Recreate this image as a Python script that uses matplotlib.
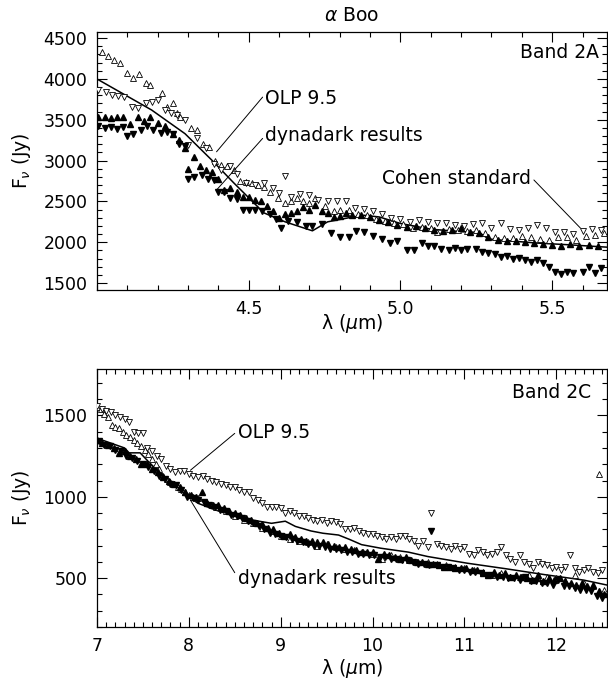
import matplotlib
matplotlib.use("Agg")
import matplotlib.pyplot as plt
from matplotlib.ticker import MultipleLocator

plt.rcParams["font.family"] = "DejaVu Sans"
plt.rcParams["mathtext.fontset"] = "dejavusans"

# ---------------- Band 2A (top panel) ----------------
a_olp_up_x = [4.016, 4.036, 4.056, 4.076, 4.098, 4.12, 4.14, 4.16, 4.175, 4.214, 4.23, 4.25, 4.265, 4.275,
              4.31, 4.33, 4.35, 4.37, 4.39, 4.41, 4.43, 4.45, 4.47, 4.49, 4.51, 4.53, 4.55, 4.57, 4.595,
              4.62, 4.64, 4.66, 4.68, 4.70, 4.72, 4.75, 4.78, 4.80, 4.83, 4.86, 4.89, 4.92, 4.95, 4.98,
              5.01, 5.04, 5.07, 5.10, 5.12, 5.16, 5.19, 5.22, 5.25, 5.28, 5.31, 5.34, 5.37, 5.40, 5.43,
              5.46, 5.49, 5.52, 5.55, 5.58, 5.61, 5.64, 5.67]
a_olp_up_y = [4330, 4280, 4230, 4190, 4070, 4010, 4060, 3950, 3930, 3830, 3660, 3700, 3580, 3540,
              3400, 3380, 3200, 3170, 2990, 2950, 2940, 2880, 2750, 2740, 2730, 2700, 2680, 2620, 2540,
              2480, 2500, 2540, 2500, 2480, 2540, 2440, 2380, 2400, 2390, 2350, 2330, 2280, 2260, 2230,
              2220, 2180, 2190, 2170, 2120, 2160, 2150, 2140, 2150, 2110, 2060, 2050, 2050, 2080, 2060,
              2040, 2030, 2070, 2060, 2030, 2080, 2090, 2110]

a_olp_dn_x = [4.005, 4.03, 4.05, 4.07, 4.09, 4.115, 4.135, 4.16, 4.18, 4.20, 4.225, 4.245, 4.265, 4.29,
              4.30, 4.33, 4.36, 4.385, 4.41, 4.44, 4.46, 4.49, 4.52, 4.55, 4.58, 4.60, 4.62, 4.64, 4.67,
              4.70, 4.73, 4.76, 4.79, 4.82, 4.85, 4.88, 4.91, 4.94, 4.97, 5.00, 5.03, 5.06, 5.09, 5.12,
              5.15, 5.18, 5.21, 5.24, 5.27, 5.30, 5.33, 5.36, 5.39, 5.42, 5.45, 5.48, 5.51, 5.54, 5.57,
              5.60, 5.63, 5.66]
a_olp_dn_y = [3860, 3840, 3800, 3790, 3780, 3660, 3650, 3700, 3720, 3740, 3620, 3580, 3560, 3500,
              3190, 3280, 3160, 2960, 2890, 2940, 2830, 2720, 2700, 2720, 2660, 2600, 2810, 2560, 2590,
              2580, 2520, 2500, 2500, 2500, 2420, 2410, 2380, 2340, 2300, 2290, 2250, 2270, 2250, 2230,
              2240, 2210, 2200, 2220, 2230, 2180, 2230, 2160, 2150, 2180, 2210, 2170, 2130, 2120, 2100,
              2140, 2160, 2150]

a_dyn_up_x = [4.005, 4.025, 4.045, 4.065, 4.085, 4.11, 4.135, 4.155, 4.175, 4.20, 4.225, 4.25, 4.27,
              4.29, 4.30, 4.32, 4.34, 4.36, 4.38, 4.40, 4.42, 4.44, 4.46, 4.48, 4.50, 4.52, 4.54, 4.56,
              4.58, 4.60, 4.62, 4.64, 4.66, 4.68, 4.70, 4.72, 4.74, 4.76, 4.78, 4.80, 4.82, 4.84, 4.87,
              4.90, 4.93, 4.96, 4.99, 5.02, 5.05, 5.08, 5.11, 5.14, 5.17, 5.20, 5.23, 5.26, 5.29, 5.32,
              5.35, 5.38, 5.41, 5.44, 5.47, 5.50, 5.53, 5.56, 5.59, 5.62, 5.65]
a_dyn_up_y = [3530, 3540, 3520, 3530, 3530, 3450, 3530, 3480, 3540, 3460, 3420, 3320, 3250,
              3150, 2900, 3050, 2930, 2880, 2860, 2780, 2640, 2660, 2610, 2560, 2560, 2520, 2500, 2440,
              2380, 2300, 2340, 2360, 2380, 2430, 2400, 2460, 2380, 2360, 2310, 2320, 2360, 2330, 2330,
              2310, 2270, 2250, 2210, 2190, 2200, 2170, 2150, 2140, 2150, 2180, 2120, 2110, 2060, 2030,
              2020, 2020, 2000, 1990, 1980, 1970, 1960, 1980, 1960, 1970, 1960]

a_dyn_dn_x = [4.005, 4.025, 4.045, 4.065, 4.085, 4.10, 4.12, 4.145, 4.165, 4.185, 4.21, 4.23, 4.25,
              4.27, 4.29, 4.30, 4.32, 4.345, 4.365, 4.385, 4.40, 4.42, 4.44, 4.46, 4.48, 4.50, 4.52,
              4.545, 4.57, 4.59, 4.605, 4.63, 4.66, 4.69, 4.71, 4.74, 4.77, 4.80, 4.83, 4.855, 4.88,
              4.91, 4.94, 4.965, 4.99, 5.02, 5.045, 5.07, 5.09, 5.11, 5.135, 5.16, 5.18, 5.20, 5.22,
              5.25, 5.27, 5.29, 5.31, 5.33, 5.35, 5.37, 5.39, 5.41, 5.43, 5.45, 5.47, 5.49, 5.51, 5.53,
              5.55, 5.57, 5.60, 5.62, 5.64, 5.66]
a_dyn_dn_y = [3420, 3400, 3410, 3390, 3410, 3300, 3330, 3380, 3420, 3380, 3340, 3350, 3320,
              3200, 3180, 2780, 2800, 2820, 2770, 2760, 2620, 2620, 2540, 2530, 2400, 2400, 2390,
              2380, 2340, 2280, 2180, 2260, 2250, 2200, 2200, 2220, 2110, 2060, 2060, 2140, 2130,
              2080, 2040, 1990, 2010, 1900, 1900, 1990, 1950, 1960, 1920, 1910, 1930, 1900, 1920,
              1920, 1880, 1870, 1860, 1820, 1830, 1790, 1810, 1780, 1760, 1780, 1740, 1700, 1640, 1610,
              1640, 1620, 1640, 1700, 1620, 1680]

a_cohen_x = [4.0, 4.18, 4.29, 4.38, 4.45, 4.55, 4.62, 4.71, 4.76, 4.83, 4.88, 4.93, 5.0, 5.1, 5.2,
             5.26, 5.29, 5.35, 5.45, 5.55, 5.68]
a_cohen_y = [4000, 3620, 3330, 3000, 2730, 2360, 2250, 2140, 2250, 2300, 2330, 2310, 2230, 2160, 2130,
             2120, 2040, 2020, 1990, 1970, 1940]

# ---------------- Band 2C (bottom panel) ----------------
c_olp_dn_x = [7.00, 7.05, 7.10, 7.15, 7.20, 7.25, 7.30, 7.35, 7.40, 7.45, 7.50, 7.55, 7.60, 7.65, 7.70,
              7.75, 7.80, 7.85, 7.90, 7.95, 8.00, 8.05, 8.10, 8.15, 8.20, 8.25, 8.30, 8.35, 8.40, 8.45,
              8.50, 8.55, 8.60, 8.65, 8.70, 8.75, 8.80, 8.85, 8.90, 8.95, 9.00, 9.05, 9.10, 9.15, 9.20,
              9.25, 9.30, 9.35, 9.40, 9.45, 9.50, 9.55, 9.60, 9.65, 9.70, 9.75, 9.80, 9.85, 9.90, 9.95,
              10.00, 10.05, 10.10, 10.15, 10.20, 10.25, 10.30, 10.35, 10.40, 10.45, 10.50, 10.55, 10.60,
              10.64, 10.70, 10.75, 10.80, 10.85, 10.90, 10.95, 11.00, 11.05, 11.10, 11.15, 11.20, 11.25,
              11.30, 11.35, 11.40, 11.45, 11.50, 11.55, 11.60, 11.65, 11.70, 11.75, 11.80, 11.85, 11.90,
              11.95, 12.00, 12.05, 12.10, 12.15, 12.20, 12.25, 12.30, 12.35, 12.40, 12.45, 12.50]
c_olp_dn_y = [1560, 1540, 1530, 1520, 1500, 1490, 1480, 1460, 1400, 1390, 1390, 1300, 1280, 1250, 1230,
              1190, 1170, 1150, 1160, 1160, 1140, 1130, 1120, 1130, 1110, 1100, 1090, 1080, 1070, 1060,
              1060, 1040, 1030, 1030, 990, 980, 960, 940, 935, 940, 930, 900, 910, 900, 880,
              880, 870, 860, 850, 860, 840, 850, 845, 830, 800, 800, 810, 790, 780, 770,
              770, 760, 750, 740, 750, 740, 760, 760, 740, 730, 700, 730, 690,
              900, 710, 700, 690, 680, 700, 680, 690, 650, 640, 670, 660, 640,
              650, 660, 690, 640, 620, 600, 640, 600, 590, 560, 600, 590, 580,
              560, 570, 550, 570, 640, 560, 540, 550, 560, 540, 530, 550]

c_olp_up_x = [7.00, 7.04, 7.08, 7.12, 7.16, 7.20, 7.24, 7.28, 7.32, 7.36, 7.40, 7.44, 7.48, 7.52, 7.56,
              7.60, 7.64, 7.68, 7.72, 7.76, 7.80, 7.84, 7.88, 7.92, 7.96, 8.00, 8.05, 8.10, 8.20, 8.30,
              8.40, 8.50, 8.60, 8.70, 8.80, 8.90, 9.00, 9.10, 9.20, 9.30, 9.40, 9.50, 9.60, 9.70, 9.80,
              9.90, 10.00, 10.10, 10.20, 10.30, 10.40, 10.50, 10.60, 10.70, 10.80, 10.90, 11.00, 11.10,
              11.20, 11.30, 11.40, 11.50, 11.60, 11.70, 11.80, 11.90, 12.00, 12.10, 12.20, 12.30, 12.40,
              12.47, 12.52]
c_olp_up_y = [1550, 1540, 1510, 1490, 1440, 1430, 1420, 1400, 1380, 1370, 1350, 1330, 1310, 1290, 1260,
              1230, 1200, 1170, 1130, 1110, 1090, 1080, 1060, 1050, 1030, 1010, 1000, 990, 960, 940,
              910, 880, 860, 840, 810, 790, 760, 740, 730, 720, 700, 710, 690, 680, 670,
              660, 650, 620, 640, 630, 610, 600, 600, 590, 580, 570, 560, 550,
              540, 520, 530, 510, 510, 520, 500, 510, 500, 480, 520, 470, 450,
              1140, 430]

c_dyn_up_x = [7.00, 7.06, 7.12, 7.18, 7.24, 7.30, 7.36, 7.42, 7.48, 7.54, 7.60, 7.66, 7.72, 7.78, 7.84,
              7.90, 7.96, 8.02, 8.08, 8.14, 8.20, 8.26, 8.32, 8.38, 8.44, 8.50, 8.56, 8.62, 8.68, 8.74,
              8.80, 8.86, 8.92, 8.98, 9.04, 9.10, 9.16, 9.22, 9.28, 9.34, 9.40, 9.46, 9.52, 9.58, 9.64,
              9.70, 9.76, 9.82, 9.88, 9.94, 10.00, 10.06, 10.12, 10.18, 10.24, 10.30, 10.36, 10.42, 10.48,
              10.54, 10.60, 10.66, 10.72, 10.78, 10.84, 10.90, 10.96, 11.02, 11.08, 11.14, 11.20, 11.26,
              11.32, 11.38, 11.44, 11.50, 11.56, 11.62, 11.68, 11.74, 11.80, 11.86, 11.92, 11.98, 12.04,
              12.10, 12.16, 12.22, 12.28, 12.34, 12.40, 12.46, 12.52]
c_dyn_up_y = [1350, 1330, 1320, 1300, 1270, 1280, 1250, 1230, 1200, 1200, 1170, 1150, 1120, 1100, 1080,
              1060, 1030, 1010, 1000, 1030, 960, 950, 950, 930, 910, 900, 890, 870, 860, 840,
              830, 810, 800, 780, 760, 770, 750, 740, 730, 730, 720, 720, 710, 700, 690,
              690, 680, 670, 660, 660, 660, 620, 650, 640, 630, 620, 630, 610, 600,
              600, 590, 590, 580, 570, 570, 560, 560, 560, 550, 550, 530, 520,
              540, 520, 530, 510, 520, 510, 500, 490, 520, 480, 500, 490, 500,
              480, 470, 460, 470, 450, 460, 420, 400]

c_dyn_dn_x = [7.02, 7.08, 7.14, 7.20, 7.26, 7.32, 7.38, 7.44, 7.50, 7.56, 7.62, 7.68, 7.74, 7.80, 7.86,
              7.92, 7.98, 8.04, 8.10, 8.16, 8.22, 8.28, 8.34, 8.40, 8.46, 8.52, 8.58, 8.64, 8.70, 8.76,
              8.82, 8.88, 8.94, 9.00, 9.06, 9.12, 9.18, 9.24, 9.30, 9.36, 9.42, 9.48, 9.54, 9.60, 9.66,
              9.72, 9.78, 9.84, 9.90, 9.96, 10.02, 10.08, 10.14, 10.20, 10.26, 10.32, 10.38, 10.44, 10.50,
              10.56, 10.62, 10.64, 10.70, 10.76, 10.82, 10.88, 10.94, 11.00, 11.06, 11.12, 11.18, 11.24,
              11.30, 11.36, 11.42, 11.48, 11.54, 11.60, 11.66, 11.72, 11.78, 11.84, 11.90, 11.96, 12.02,
              12.08, 12.14, 12.20, 12.26, 12.32, 12.38, 12.44, 12.50]
c_dyn_dn_y = [1340, 1320, 1310, 1290, 1280, 1250, 1240, 1220, 1200, 1180, 1160, 1130, 1110, 1080, 1070,
              1040, 1000, 990, 980, 970, 950, 940, 920, 910, 890, 880, 870, 850, 840, 820,
              800, 780, 770, 760, 750, 740, 730, 720, 710, 700, 700, 690, 680, 680, 670,
              660, 660, 650, 650, 640, 640, 630, 630, 620, 620, 610, 610, 600, 590,
              590, 580, 790, 580, 570, 570, 560, 550, 550, 540, 540, 530, 520,
              520, 510, 510, 500, 500, 490, 510, 480, 480, 470, 470, 460, 490,
              450, 450, 440, 430, 430, 420, 390, 380]

c_cohen_x = [7.0, 7.2, 7.3, 7.35, 7.47, 7.57, 7.7, 7.85, 7.97, 8.1, 8.31, 8.5, 8.69, 8.9, 9.05, 9.16,
             9.33, 9.46, 9.63, 9.75, 9.88, 10.09, 10.39, 10.6, 11.03, 11.45, 11.87, 12.3, 12.55]
c_cohen_y = [1360, 1320, 1300, 1270, 1270, 1210, 1140, 1070, 1010, 960, 915, 880, 857, 837, 850, 818,
             790, 776, 765, 738, 706, 684, 660, 633, 592, 558, 522, 488, 458]

# ---------------- figure ----------------
fig = plt.figure(figsize=(6.08, 6.83), dpi=100)
ax1 = fig.add_axes([0.1595, 0.5754, 0.8385, 0.3777])
ax2 = fig.add_axes([0.1595, 0.0820, 0.8385, 0.3777])

ms = 4.4
fs = 12.5   # tick labels
fa = 13.5   # annotation text
open_kw = dict(linestyle="none", markerfacecolor="white", markeredgecolor="black", markeredgewidth=0.6, markersize=ms)
fill_kw = dict(linestyle="none", color="black", markersize=ms * 0.85)

def draw(ax, ou_x, ou_y, od_x, od_y, du_x, du_y, dd_x, dd_y, c_x, c_y):
    ax.plot(c_x, c_y, color="black", lw=1.1, zorder=2)
    ax.plot(ou_x, ou_y, marker="^", zorder=3, **open_kw)
    ax.plot(od_x, od_y, marker="v", zorder=3, **open_kw)
    ax.plot(du_x, du_y, marker="^", zorder=4, **fill_kw)
    ax.plot(dd_x, dd_y, marker="v", zorder=4, **fill_kw)
    ax.tick_params(which="both", direction="in", top=True, right=True, labelsize=fs, width=0.8)
    ax.tick_params(which="major", length=7, pad=7)
    ax.tick_params(which="minor", length=3.5)
    for s in ax.spines.values():
        s.set_linewidth(0.9)

draw(ax1, a_olp_up_x, a_olp_up_y, a_olp_dn_x, a_olp_dn_y, a_dyn_up_x, a_dyn_up_y,
     a_dyn_dn_x, a_dyn_dn_y, a_cohen_x, a_cohen_y)
draw(ax2, c_olp_up_x, c_olp_up_y, c_olp_dn_x, c_olp_dn_y, c_dyn_up_x, c_dyn_up_y,
     c_dyn_dn_x, c_dyn_dn_y, c_cohen_x, c_cohen_y)

line_kw = dict(arrowstyle="-", lw=0.7, color="black", shrinkA=0, shrinkB=0)
xlab = r"λ ($\mu$m)"

# top panel axes
ax1.set_xlim(4.0, 5.68)
ax1.set_ylim(1415, 4575)
ax1.set_xticks([4.5, 5.0, 5.5])
ax1.set_xticklabels(["4.5", "5.0", "5.5"])
ax1.xaxis.set_minor_locator(MultipleLocator(0.1))
ax1.set_yticks([1500, 2000, 2500, 3000, 3500, 4000, 4500])
ax1.yaxis.set_minor_locator(MultipleLocator(100))
ax1.set_title(r"$\alpha$ Boo", fontsize=fa, pad=8)
ax1.set_xlabel(xlab, fontsize=fa)
ax1.set_ylabel(r"F$_\nu$ (Jy)", fontsize=fa)
ax1.xaxis.set_label_coords(0.5, -0.085)
ax1.yaxis.set_label_coords(-0.125, 0.5)

ax1.text(5.655, 4330, "Band 2A", fontsize=fa, ha="right", va="center")
ax1.annotate("OLP 9.5", xy=(4.394, 3108), xytext=(4.555, 3760), fontsize=fa, ha="left", va="center",
             arrowprops=dict(relpos=(0.0, 0.75), **line_kw))
ax1.annotate("dynadark results", xy=(4.394, 2640), xytext=(4.555, 3310), fontsize=fa, ha="left", va="center",
             arrowprops=dict(relpos=(0.0, 0.5), **line_kw))
ax1.annotate("Cohen standard", xy=(5.593, 2174), xytext=(5.43, 2786), fontsize=fa, ha="right", va="center",
             arrowprops=dict(relpos=(1.02, 0.4), **line_kw))

# bottom panel axes
ax2.set_xlim(7.0, 12.55)
ax2.set_ylim(200, 1785)
ax2.set_xticks([7, 8, 9, 10, 11, 12])
ax2.xaxis.set_minor_locator(MultipleLocator(0.1))
ax2.set_yticks([500, 1000, 1500])
ax2.yaxis.set_minor_locator(MultipleLocator(100))
ax2.set_xlabel(xlab, fontsize=fa)
ax2.set_ylabel(r"F$_\nu$ (Jy)", fontsize=fa)
ax2.xaxis.set_label_coords(0.5, -0.115)
ax2.yaxis.set_label_coords(-0.125, 0.5)

ax2.text(12.38, 1643, "Band 2C", fontsize=fa, ha="right", va="center")
ax2.annotate("OLP 9.5", xy=(8.017, 1163), xytext=(8.53, 1398), fontsize=fa, ha="left", va="center",
             arrowprops=dict(relpos=(0.0, 0.55), **line_kw))
ax2.annotate("dynadark results", xy=(8.017, 980), xytext=(8.53, 500), fontsize=fa, ha="left", va="center",
             arrowprops=dict(relpos=(0.0, 0.55), **line_kw))

fig.savefig("out.png", dpi=100)
